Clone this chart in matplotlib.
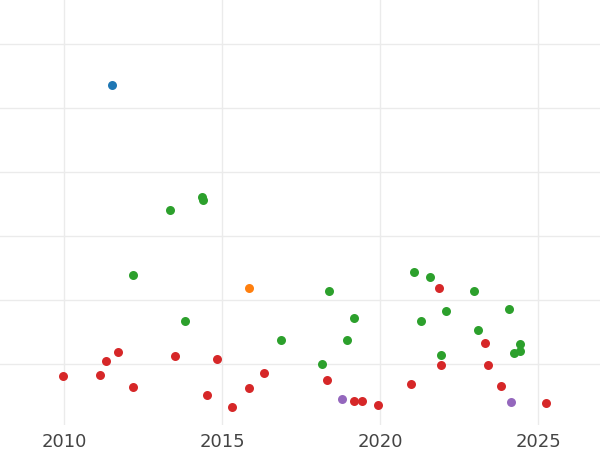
import matplotlib
matplotlib.use("Agg")
import matplotlib.pyplot as plt

# data (year, value)
blue_x = [2011.52]
blue_y = [5.36]
orange_x = [2015.85]
orange_y = [2.19]
green_x = [2013.35, 2014.37, 2014.40, 2012.18, 2013.83, 2016.87, 2018.39, 2018.16,
           2019.18, 2018.96, 2021.08, 2021.58, 2021.30, 2022.09, 2022.97, 2021.93,
           2023.10, 2024.08, 2024.24, 2024.43, 2024.43]
green_y = [3.41, 3.61, 3.56, 2.39, 1.67, 1.38, 2.14, 1.00,
           1.72, 1.38, 2.44, 2.36, 1.67, 1.83, 2.14, 1.14,
           1.53, 1.86, 1.17, 1.31, 1.20]
red_x = [2009.97, 2011.14, 2011.33, 2011.71, 2012.18, 2013.51, 2014.53, 2014.84,
         2015.32, 2015.85, 2016.33, 2018.32, 2019.18, 2019.43, 2019.94, 2020.98,
         2021.87, 2021.93, 2023.32, 2023.42, 2023.83, 2025.25]
red_y = [0.81, 0.83, 1.05, 1.19, 0.64, 1.13, 0.52, 1.08,
         0.33, 0.63, 0.86, 0.75, 0.42, 0.42, 0.36, 0.69,
         2.19, 0.98, 1.33, 0.98, 0.66, 0.39]
purple_x = [2018.80, 2024.15]
purple_y = [0.45, 0.41]

xticks = [2010, 2015, 2020, 2025]

fig = plt.figure(figsize=(6, 4.5), dpi=100)
ax = fig.add_axes([0, 425 / 450 * 0 + 25 / 450, 1, 425 / 450])

for xs, ys, c in [(green_x, green_y, "#2ca02c"), (red_x, red_y, "#d62728"),
                  (purple_x, purple_y, "#9467bd"), (orange_x, orange_y, "#ff7f0e"),
                  (blue_x, blue_y, "#1f77b4")]:
    ax.scatter(xs, ys, s=42, color=c, linewidths=0, zorder=3)

ax.set_xlim(2007.97, 2026.96)
ax.set_ylim(0.05, 6.69)
ax.set_xticks(xticks)
ax.set_yticks([1, 2, 3, 4, 5, 6])
ax.set_yticklabels([])
ax.grid(True, color="#ebebeb", linewidth=1)
ax.set_axisbelow(True)
for s in ax.spines.values():
    s.set_visible(False)
ax.tick_params(axis="x", length=0, labelsize=13, labelcolor="#444444", pad=6)
ax.tick_params(axis="y", length=0)

fig.savefig("out.png", dpi=100)
